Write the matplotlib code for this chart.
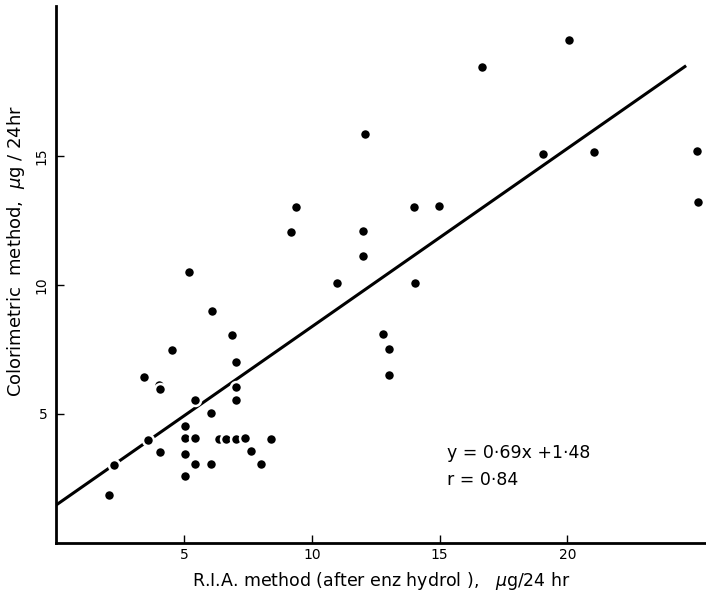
import matplotlib
matplotlib.use("Agg")
import matplotlib.pyplot as plt
import numpy as np

# R.I.A. method (x) vs colorimetric method (y), ug/24 hr
ria = [2.07, 2.24, 3.42, 3.59, 4.02, 4.05, 4.04, 4.51, 5.02, 5.04, 5.03, 5.02,
       5.2, 5.41, 5.43, 5.43, 6.03, 6.03, 6.07, 6.35, 6.62, 6.86, 7.01, 7.01,
       7.04, 7.01, 7.39, 7.6, 8.0, 8.38, 9.18, 9.37, 10.99, 12.0, 12.01,
       12.07, 12.8, 13.0, 13.0, 14.0, 14.03, 14.98, 16.65, 19.05, 20.07,
       21.05, 25.08, 25.13]
color = [1.86, 3.03, 6.42, 3.99, 6.12, 5.97, 3.51, 7.48, 4.55, 4.07, 3.44, 2.61,
         10.5, 5.55, 4.07, 3.05, 5.05, 3.05, 8.99, 4.03, 4.03, 8.04, 6.05, 5.55,
         7.02, 4.03, 4.08, 3.55, 3.06, 4.03, 12.04, 13.02, 10.09, 11.1, 12.07,
         15.85, 8.09, 7.52, 6.51, 13.03, 10.07, 13.06, 18.45, 15.08, 19.48,
         15.13, 15.19, 13.19]

slope, intercept = 0.69, 1.48
fit_x = np.array([0, 24.6])

fig = plt.figure(figsize=(7.06, 5.95), dpi=100)
ax = fig.add_axes([0.080, 0.0874, 0.919, 0.9025])

ax.plot(fit_x, slope * fit_x + intercept, color="black", lw=2.2, zorder=2)
# white rim around the dots breaks the line where it passes through them
ax.plot(ria, color, "o", ms=7.9, mfc="black", mec="white", mew=1.8, zorder=3)

ax.set_xlim(0, 25.4)
ax.set_ylim(0, 20.8)
for s in ("top", "right"):
    ax.spines[s].set_visible(False)
for s in ("left", "bottom"):
    ax.spines[s].set_linewidth(2)

ax.set_xticks([5, 10, 15, 20])
ax.set_yticks([5, 10, 15])
ax.tick_params(direction="in", length=6, width=1, labelsize=10)
ax.tick_params(axis="y", pad=6)
for lab in ax.get_yticklabels()[1:]:
    lab.set_rotation(90)
    lab.set_va("center")

ax.set_xlabel(r"R.I.A. method (after enz hydrol ),   $\mu$g/24 hr", fontsize=12.5, labelpad=6)
ax.set_ylabel(r"Colorimetric  method,  $\mu$g / 24hr", fontsize=13, labelpad=4)
ax.yaxis.set_label_coords(-0.046, 0.544)

ax.text(15.3, 3.5, "y = 0·69x +1·48", fontsize=12.5, va="center")
ax.text(15.3, 2.45, "r = 0·84", fontsize=12.5, va="center")

fig.savefig("out.png", dpi=100)
